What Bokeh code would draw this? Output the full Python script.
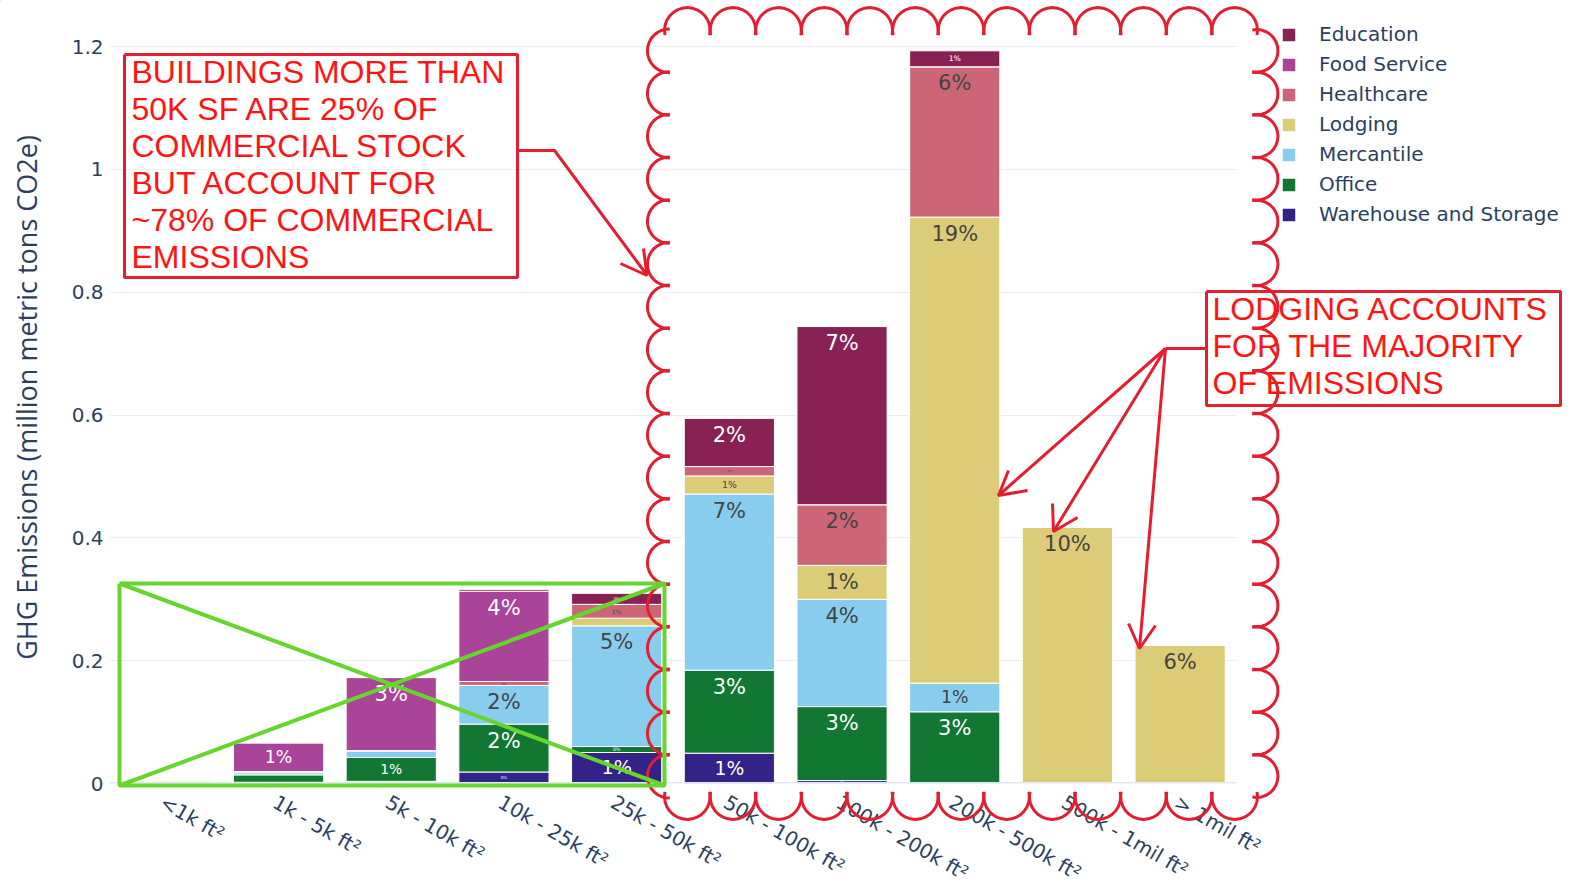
import math
from bokeh.plotting import figure
from bokeh.models import (Range1d, FixedTicker, CustomJSTickFormatter, Legend,
                          LegendItem, Span, ColumnDataSource)
from bokeh.core.properties import value
from bokeh.embed import file_html
from bokeh.resources import INLINE

# ---------------- data ----------------
sizes = ["<1k ft²", "1k - 5k ft²", "5k - 10k ft²", "10k - 25k ft²", "25k - 50k ft²",
         "50k - 100k ft²", "100k - 200k ft²", "200k - 500k ft²", "500k - 1mil ft²", "> 1mil ft²"]

education    = [0.0,    0.0,    0.0,    0.003,  0.0179, 0.0784, 0.2901, 0.026,  0.0,   0.0]
food_service = [0.002,  0.0467, 0.1188, 0.147,  0.0,    0.0,    0.0,    0.0,    0.0,   0.0]
healthcare   = [0.0,    0.001,  0.001,  0.0064, 0.0225, 0.0153, 0.0987, 0.2448, 0.0,   0.0]
lodging      = [0.0,    0.001,  0.0,    0.0,    0.0125, 0.0295, 0.0553, 0.7588, 0.417, 0.2254]
mercantile   = [0.0005, 0.0035, 0.0102, 0.063,  0.1965, 0.2867, 0.1747, 0.0467, 0.0,   0.0]
office       = [0.001,  0.012,  0.039,  0.078,  0.0097, 0.1352, 0.1204, 0.1167, 0.0,   0.0]
warehouse    = [0.0005, 0.002,  0.0035, 0.0187, 0.0505, 0.0494, 0.0048, 0.0,    0.0,   0.0]

series_names = ["Warehouse and Storage", "Office", "Mercantile", "Lodging",
                "Healthcare", "Food Service", "Education"]          # bottom -> top
series_vals = [warehouse, office, mercantile, lodging, healthcare, food_service, education]
series_colors = ["#332288", "#117733", "#88CCEE", "#DDCC77", "#CC6677", "#AA4499", "#882255"]
text_colors = ["white", "white", "#444444", "#444444", "#444444", "white", "white"]

y_ticks = [0, 0.2, 0.4, 0.6, 0.8, 1.0, 1.2]

note1 = ["BUILDINGS MORE THAN", "50K SF ARE 25% OF", "COMMERCIAL STOCK",
         "BUT ACCOUNT FOR", "~78% OF COMMERCIAL", "EMISSIONS"]
note2 = ["LODGING ACCOUNTS", "FOR THE MAJORITY", "OF EMISSIONS"]

# ---------------- main chart ----------------
PW, PH = 1585, 883
LEFT, TOP = 109, 11
FW, FH = 1127, 772
YMAX = 1.257
TXT = "#2a3f5f"
LABEL_SHIFT = 0.034   # tick labels start slightly left of bar centres

p = figure(frame_width=FW, frame_height=FH, x_range=Range1d(-0.5, len(sizes) - 0.5),
           y_range=Range1d(0, YMAX), output_backend="svg", toolbar_location=None,
           min_border_left=LEFT, min_border_top=TOP, min_border_right=PW - LEFT - FW,
           min_border_bottom=60, outline_line_color=None,
           background_fill_color="white", border_fill_color="white")

xs = list(range(len(sizes)))
src = {"x": xs}
keys = []
for i, vals in enumerate(series_vals):
    k = "s%d" % i
    src[k] = vals
    keys.append(k)
source = ColumnDataSource(src)
renderers = p.vbar_stack(keys, x="x", width=0.8, color=series_colors, source=source,
                         line_color="white", line_width=1)

# percentage labels inside the segments
total = sum(sum(v) for v in series_vals)
ppu = FH / YMAX
FS = 21.0
tx, ty, tt, tfs, toff, tcol = [], [], [], [], [], []
for j in xs:
    base = 0.0
    for i, vals in enumerate(series_vals):
        v = vals[j]
        top = base + v
        base = top
        if v <= 0:
            continue
        h = v * ppu
        pad = 3 if h > 6 else 0
        scale = min(1.0, (h - 2 * pad) / (1.3 * FS))
        fs = FS * scale
        if fs < 2.2:
            continue
        tx.append(j)
        ty.append(top)
        tt.append("%d%%" % round(100 * v / total))
        tfs.append("%.1fpx" % fs)
        toff.append(pad + 0.65 * FS * scale)
        tcol.append(text_colors[i])
tsrc = ColumnDataSource(dict(x=tx, y=ty, t=tt, fs=tfs, off=toff, c=tcol))
p.text(x="x", y="y", text="t", source=tsrc, text_font=value("DejaVu Sans"),
       text_font_size="fs", text_color="c", text_align="center", text_baseline="middle",
       y_offset="off")

# axes
p.yaxis.ticker = FixedTicker(ticks=y_ticks)
p.yaxis.formatter = CustomJSTickFormatter(code="return (Math.round(tick*10)/10).toString()")
p.yaxis.axis_line_color = None
p.yaxis.major_tick_line_color = None
p.yaxis.minor_tick_line_color = None
p.yaxis.major_label_text_font = "DejaVu Sans"
p.yaxis.major_label_text_font_size = "20px"
p.yaxis.major_label_text_color = TXT
p.yaxis.major_label_standoff = 0
p.yaxis.axis_label = "GHG Emissions (million metric tons CO2e)"
p.yaxis.axis_label_text_font = "Open Sans"
p.yaxis.axis_label_text_font_size = "27px"
p.yaxis.axis_label_text_font_style = "normal"
p.yaxis.axis_label_text_color = TXT
p.yaxis.axis_label_standoff = 24

p.xaxis.ticker = FixedTicker(ticks=[i - LABEL_SHIFT for i in xs])
p.xaxis.formatter = CustomJSTickFormatter(args=dict(names=sizes, sh=LABEL_SHIFT),
                                          code="return names[Math.round(tick + sh)]")
p.xaxis.axis_line_color = None
p.xaxis.major_tick_line_color = None
p.xaxis.minor_tick_line_color = None
p.xaxis.major_label_orientation = -math.pi / 6
p.xaxis.major_label_text_font = "DejaVu Sans"
p.xaxis.major_label_text_font_size = "20px"
p.xaxis.major_label_text_color = TXT
p.xaxis.major_label_standoff = 11

p.xgrid.grid_line_color = None
p.ygrid.grid_line_color = "#EBEEF4"
p.ygrid.grid_line_width = 1
p.add_layout(Span(location=0, dimension="width", line_color="#E3E9F3", line_width=3))

# ---------------- overlay (annotations drawn in page pixels) ----------------
ov = figure(width=PW, height=PH, x_range=Range1d(0, PW), y_range=Range1d(PH, 0),
            min_border=0, x_axis_type=None, y_axis_type=None, toolbar_location=None,
            output_backend="svg", background_fill_color=None, border_fill_color=None,
            outline_line_color=None,
            styles={"position": "absolute", "left": "0px", "top": "0px"})
ov.xgrid.visible = False
ov.ygrid.visible = False

# legend (swatches mirror the bar colours; proxy bars sit off-canvas)
proxies = []
for i, name in enumerate(series_names):
    r = ov.vbar(x=[-50], top=[1], width=1, color=series_colors[i], line_color="white")
    proxies.append(r)
order = [6, 5, 4, 3, 2, 1, 0]
items = [LegendItem(label=series_names[i], renderers=[proxies[i]]) for i in order]
legend = Legend(items=items, location=(1280, 654), glyph_width=17, glyph_height=17,
                label_standoff=22, spacing=0, label_height=30, padding=0, margin=0,
                border_line_alpha=0, background_fill_alpha=0,
                label_text_font="DejaVu Sans", label_text_font_size="20px",
                label_text_color=TXT)
ov.add_layout(legend)

RED = "#E41E2E"
GREEN = "#66D62E"


def pline(pts, color, width):
    ov.line([a for a, b in pts], [b for a, b in pts], line_color=color, line_width=width)


def arc(p0, p1, normal, sag, extra=0.0, n=16):
    c = math.dist(p0, p1)
    r = (c * c / 4 + sag * sag) / (2 * sag)
    mx, my = (p0[0] + p1[0]) / 2, (p0[1] + p1[1]) / 2
    cx, cy = mx - normal[0] * (r - sag), my - normal[1] * (r - sag)
    am = math.atan2(normal[1], normal[0])
    th = math.asin(min(1.0, (c / 2) / r)) + extra
    return [(cx + r * math.cos(am - th + 2 * th * k / n), cy + r * math.sin(am - th + 2 * th * k / n))
            for k in range(n + 1)]


# revision cloud
x0, x1, y0, y1 = 664, 1257, 29, 797
nt, ns = 13, 18
cxs, cys = [], []
ext = math.radians(14)


def add_arc(pts):
    cxs.append([a for a, b in pts])
    cys.append([b for a, b in pts])


for k in range(nt):
    add_arc(arc((x0 + (x1 - x0) * k / nt, y0), (x0 + (x1 - x0) * (k + 1) / nt, y0),
                (0, -1), 0.48 * (x1 - x0) / nt, ext))
    add_arc(arc((x0 + (x1 - x0) * k / nt, y1), (x0 + (x1 - x0) * (k + 1) / nt, y1),
                (0, 1), 0.48 * (x1 - x0) / nt, ext))
for k in range(ns):
    add_arc(arc((x1, y0 + (y1 - y0) * k / ns), (x1, y0 + (y1 - y0) * (k + 1) / ns),
                (1, 0), 0.48 * (y1 - y0) / ns, ext))
    add_arc(arc((x0, y0 + (y1 - y0) * k / ns), (x0, y0 + (y1 - y0) * (k + 1) / ns),
                (-1, 0), 0.40 * (y1 - y0) / ns, ext))
ov.multi_line(cxs, cys, line_color=RED, line_width=3)

# green crossed box
gx0, gy0, gx1, gy1 = 119, 583, 664, 785
pline([(gx0, gy0), (gx1, gy0), (gx1, gy1), (gx0, gy1), (gx0, gy0)], GREEN, 4)
pline([(gx0, gy0), (gx1, gy1)], GREEN, 4)
pline([(gx0, gy1), (gx1, gy0)], GREEN, 4)

# note boxes
pline([(124, 54), (517, 54), (517, 277), (124, 277), (124, 54)], RED, 3)
pline([(1206, 291), (1560, 291), (1560, 405), (1206, 405), (1206, 291)], RED, 3)

# arrows
pline([(517, 150), (554, 150), (646, 274)], RED, 3)
pline([(620, 263), (646.5, 275), (643, 248)], RED, 3)
o = (1165, 348)
pline([(1206, 348), o], RED, 3)
for tip, w1, w2 in [((998, 495), (1008, 470), (1027, 490)),
                    ((1053, 531), (1052, 503), (1077, 517)),
                    ((1139, 648), (1128, 623), (1155, 625))]:
    pline([o, tip], RED, 3)
    pline([w1, tip, w2], RED, 3)

# note texts
n1 = ColumnDataSource(dict(x=[131] * len(note1), y=[71 + 37 * i for i in range(len(note1))], t=note1))
n2 = ColumnDataSource(dict(x=[1212] * len(note2), y=[308 + 37 * i for i in range(len(note2))], t=note2))
for s in (n1, n2):
    ov.text(x="x", y="y", text="t", source=s, text_font=value("Liberation Sans"),
            text_font_size="32px", text_color="#FF1414", text_baseline="middle",
            text_align="left")

open("out.html", "w").write(file_html([p, ov], INLINE))
